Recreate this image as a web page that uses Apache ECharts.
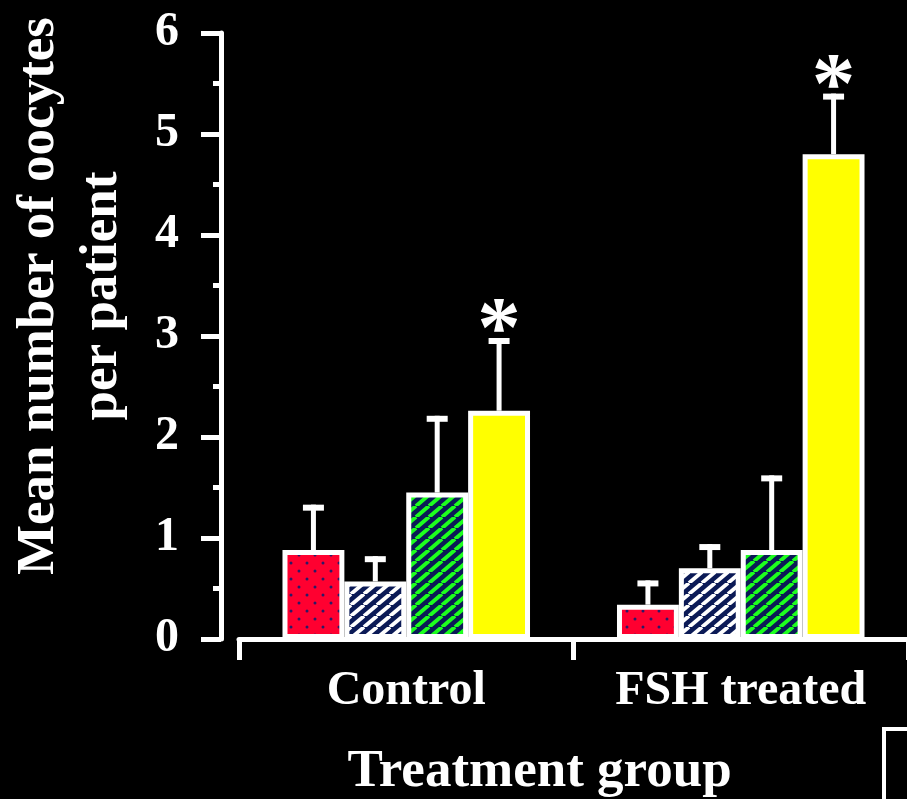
<!DOCTYPE html>
<html>
<head>
<meta charset="utf-8">
<script src="https://cdn.jsdelivr.net/npm/echarts@6/dist/echarts.min.js"></script>
<style>
html,body{margin:0;padding:0;background:#000;}
#chart{width:907px;height:799px;}
</style>
</head>
<body>
<div id="chart"></div>
<script>
// ---- data ----
const categories = ['Control', 'FSH treated'];
const dottedRed   = [0.88, 0.34];
const navyStripe  = [0.57, 0.70];
const greenStripe = [1.45, 0.88];
const solidYellow = [2.26, 4.80];
// upper end of the error bars
const dottedRedErr   = [1.33, 0.58];
const navyStripeErr  = [0.82, 0.94];
const greenStripeErr = [2.21, 1.62];
const solidYellowErr = [2.98, 5.40];
// significance marks (asterisk) above the bars
const solidYellowSig = [true, true];
const yTicks = [0, 1, 2, 3, 4, 5, 6];

const GAP = 0.26;
const FONT = '"Liberation Serif", "Times New Roman", serif';

function tile(w, h, draw) {
  const c = document.createElement('canvas');
  c.width = w; c.height = h;
  draw(c.getContext('2d'), w, h);
  return c;
}
const redPattern = tile(16, 16, (g, w, h) => {
  g.fillStyle = '#ff0030'; g.fillRect(0, 0, w, h);
  g.fillStyle = '#2a1a66';
  [[3, 3], [11, 11]].forEach(([x, y]) => { g.beginPath(); g.arc(x, y, 1.5, 0, Math.PI * 2); g.fill(); });
});
function stripes(bg, fg, lw) {
  return tile(13, 11, (g, w, h) => {
    g.fillStyle = bg; g.fillRect(0, 0, w, h);
    g.strokeStyle = fg; g.lineWidth = lw;
    for (const k of [-w, 0, w]) {
      g.beginPath(); g.moveTo(k, h); g.lineTo(k + w, 0); g.stroke();
    }
  });
}
const navyPattern = stripes('#0b1a56', '#ffffff', 3.8);
const greenPattern = stripes('#0b1a56', '#1eff1e', 4.0);

const seriesDefs = [
  { values: dottedRed, err: dottedRedErr, color: { image: redPattern, repeat: 'repeat' }, sig: null },
  { values: navyStripe, err: navyStripeErr, color: { image: navyPattern, repeat: 'repeat' }, sig: null },
  { values: greenStripe, err: greenStripeErr, color: { image: greenPattern, repeat: 'repeat' }, sig: null },
  { values: solidYellow, err: solidYellowErr, color: '#ffff00', sig: solidYellowSig }
];

const barSeries = seriesDefs.map(d => ({
  type: 'bar',
  data: d.values,
  barGap: '0%',
  barCategoryGap: (GAP * 100) + '%',
  itemStyle: { color: d.color, borderColor: '#ffffff', borderWidth: 5 },
  z: 3
}));

const errData = [];
seriesDefs.forEach((d, si) => {
  d.values.forEach((v, ci) => {
    errData.push([ci, v, d.err[ci], si, d.sig && d.sig[ci] ? 1 : 0]);
  });
});

const errSeries = {
  type: 'custom',
  z: 2,
  data: errData,
  encode: { x: 0, y: 2 },
  renderItem: (params, api) => {
    const ci = api.value(0), mean = api.value(1), top = api.value(2), si = api.value(3), sig = api.value(4);
    const p0 = api.coord([ci, mean]);
    const p1 = api.coord([ci, top]);
    const band = api.size([1, 0])[0];
    const groupW = band * (1 - GAP);
    const bw = groupW / 4;
    const x = p0[0] - groupW / 2 + bw * (si + 0.5);
    const children = [
      { type: 'rect', shape: { x: x - 2.5, y: p1[1], width: 5, height: p0[1] - p1[1] }, style: { fill: '#fff' } },
      { type: 'rect', shape: { x: x - 10.5, y: p1[1], width: 21, height: 6 }, style: { fill: '#fff' } }
    ];
    if (sig) {
      children.push({ type: 'text', x: x, y: p1[1] - 4,
        style: { text: '*', fill: '#fff', font: 'bold 87px ' + FONT, align: 'center', verticalAlign: 'middle' } });
    }
    return { type: 'group', children };
  }
};

const chart = echarts.init(document.getElementById('chart'), null, { renderer: 'canvas' });
chart.setOption({
  backgroundColor: '#000',
  animation: false,
  grid: { left: 239, right: -1, top: 33, bottom: 160, containLabel: false, outerBoundsMode: 'none' },
  xAxis: {
    type: 'category',
    data: categories,
    axisLine: { show: true, lineStyle: { color: '#fff', width: 5 } },
    axisTick: { show: true, length: 21, lineStyle: { color: '#fff', width: 5 } },
    axisLabel: { color: '#fff', fontFamily: FONT, fontWeight: 'bold', fontSize: 48, margin: 29 },
    name: 'Treatment group',
    nameLocation: 'middle',
    nameGap: 107,
    nameTextStyle: { color: '#fff', fontFamily: FONT, fontWeight: 'bold', fontSize: 53, padding: [0, 68, 0, 0] }
  },
  yAxis: {
    type: 'value',
    min: yTicks[0], max: yTicks[yTicks.length - 1], interval: 1,
    offset: 18,
    axisLine: { show: true, lineStyle: { color: '#fff', width: 5 } },
    axisTick: { show: true, length: 20, lineStyle: { color: '#fff', width: 5 } },
    minorTick: { show: true, splitNumber: 2, length: 8, lineStyle: { color: '#fff', width: 5 } },
    splitLine: { show: false },
    axisLabel: { color: '#fff', fontFamily: FONT, fontWeight: 'bold', fontSize: 48, margin: 42 }
  },
  graphic: [
    { type: 'text', x: 71, y: 296, rotation: Math.PI / 2,
      style: { text: 'Mean number of oocytes\nper patient', fill: '#fff', font: 'bold 53px ' + FONT,
               align: 'center', verticalAlign: 'middle', lineHeight: 63 } },
    { type: 'rect', shape: { x: 884, y: 729, width: 100, height: 100 },
      style: { fill: 'none', stroke: '#fff', lineWidth: 4 } }
  ],
  series: [...barSeries, errSeries]
});
</script>
</body>
</html>
